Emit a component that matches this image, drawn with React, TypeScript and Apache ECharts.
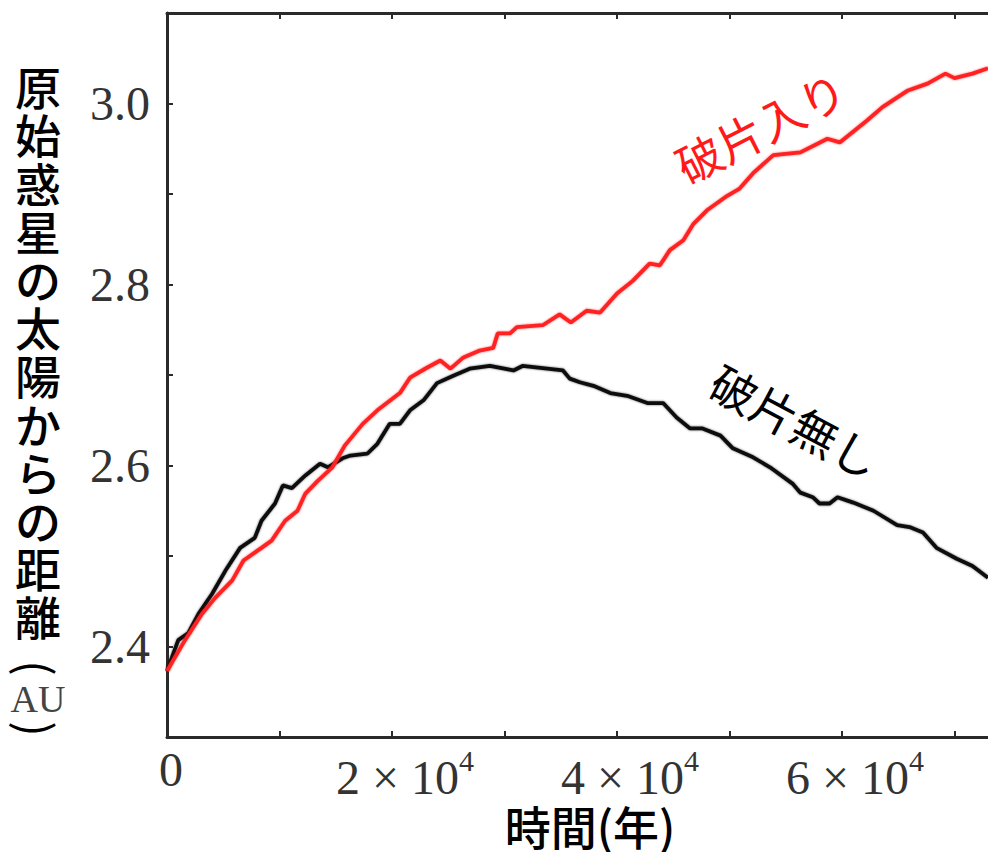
import React, { useEffect, useRef } from "react";
import * as echarts from "echarts";

// 破片入り (red)
const debrisTime = [
  0, 1600, 3100, 4300, 5800, 6800, 8400, 9300, 10500, 11600, 12300, 13400, 14700, 15800,
  17400, 18700, 20700, 21600, 23100, 24300, 25200, 26300, 27800, 29000, 29400, 30500,
  31100, 33400, 34900, 35900, 37300, 38500, 40000, 41400, 42900, 43800, 44700, 45900,
  46800, 48000, 49800, 50900, 52100, 53900, 56300, 58700, 59800, 62200, 63600, 65800,
  67600, 69200, 70000, 71600, 72980,
];
const debrisDist = [
  2.373, 2.407, 2.436, 2.454, 2.473, 2.495, 2.509, 2.517, 2.539, 2.55, 2.569, 2.583, 2.598, 2.622,
  2.646, 2.661, 2.68, 2.697, 2.708, 2.716, 2.707, 2.719, 2.727, 2.73, 2.746, 2.746,
  2.753, 2.755, 2.767, 2.758, 2.771, 2.769, 2.79, 2.804, 2.823, 2.821, 2.838, 2.849,
  2.867, 2.882, 2.898, 2.906, 2.923, 2.943, 2.946, 2.961, 2.957, 2.981, 2.996, 3.014,
  3.022, 3.033, 3.028, 3.033, 3.039,
];

// 破片無し (black)
const noDebrisTime = [
  0, 1000, 1900, 2800, 4000, 5300, 6500, 7800, 8400, 9600, 10300, 11100, 12300, 13600,
  14300, 15600, 16300, 17800, 18700, 19800, 20700, 21600, 22800, 24000, 25400, 26900,
  28700, 30800, 31600, 33800, 35200, 35800, 36700, 37900, 39400, 40900, 42700, 44100,
  45300, 46500, 47600, 49200, 50300, 52100, 53600, 55600, 56300, 57400, 58000, 58900,
  59600, 61000, 62800, 64900, 66000, 67200, 68400, 70200, 71600, 72980,
];
const noDebrisDist = [
  2.373, 2.407, 2.415, 2.436, 2.458, 2.486, 2.509, 2.52, 2.539, 2.558, 2.578, 2.575, 2.589, 2.602,
  2.598, 2.608, 2.611, 2.613, 2.624, 2.646, 2.646, 2.661, 2.672, 2.691, 2.699, 2.707,
  2.71, 2.705, 2.71, 2.707, 2.705, 2.696, 2.692, 2.688, 2.68, 2.677, 2.669, 2.669,
  2.653, 2.641, 2.641, 2.633, 2.619, 2.609, 2.598, 2.58, 2.57, 2.565, 2.558, 2.558,
  2.565, 2.559, 2.55, 2.534, 2.532, 2.526, 2.509, 2.497, 2.489, 2.476,
];

const xTicks = [10000, 20000, 30000, 40000, 50000, 60000, 70000];
const xLabels = [0, 20000, 40000, 60000];
const yLabels = [2.4, 2.6, 2.8, 3.0];

const yTitleChars = ["原", "始", "惑", "星", "の", "太", "陽", "か", "ら", "の", "距", "離"];
const yTitleUnit = "AU";
const xTitle = "時間(年)";
const debrisLabel = "破片入り";
const noDebrisLabel = "破片無し";

const SERIF = "'Liberation Serif', 'DejaVu Serif', serif";
const CJK = "'Noto Sans CJK JP', 'Noto Sans', sans-serif";

export default function App() {
  const ref = useRef<HTMLDivElement>(null);
  useEffect(() => {
    if (!ref.current) return;
    const chart = echarts.init(ref.current, null, { renderer: "svg" });
    const xMax = 72980;
    const axisLineStyle = { color: "#2a2a2a", width: 3 };
    const tickStyle = { color: "#2a2a2a", width: 2 };
    chart.setOption({
      animation: false,
      backgroundColor: "#ffffff",
      grid: { left: 167, top: 13, right: 0, bottom: 115, containLabel: false },
      xAxis: [
        {
          type: "value",
          position: "bottom",
          min: 0,
          max: xMax,
          interval: 10000,
          axisLine: { show: true, onZero: false, lineStyle: axisLineStyle },
          axisTick: { show: true, inside: true, length: 6, customValues: xTicks, lineStyle: tickStyle },
          splitLine: { show: false },
          axisLabel: {
            customValues: xLabels,
            margin: 8,
            formatter: (v: number) =>
              v === 0 ? "{z|0}" : `{a|${v / 10000} × 10}{s|4}`,
            rich: {
              z: { fontSize: 48, fontFamily: SERIF, color: "#333", padding: [0, 0, 0, 8] },
              a: { fontSize: 48, fontFamily: SERIF, color: "#333", padding: [0, 0, 0, 26] },
              s: { fontSize: 30, fontFamily: SERIF, color: "#333", padding: [0, 0, 34, 0] },
            },
          },
        },
        {
          type: "value",
          position: "top",
          min: 0,
          max: xMax,
          interval: 10000,
          axisLine: { show: true, onZero: false, lineStyle: axisLineStyle },
          axisTick: { show: true, inside: true, length: 6, customValues: xTicks, lineStyle: tickStyle },
          axisLabel: { show: false },
          splitLine: { show: false },
        },
      ],
      yAxis: {
        type: "value",
        min: 2.3,
        max: 3.1,
        interval: 0.1,
        axisLine: { show: true, onZero: false, lineStyle: axisLineStyle },
        axisTick: { show: true, inside: true, length: 6, lineStyle: tickStyle },
        splitLine: { show: false },
        axisLabel: {
          margin: 17,
          fontSize: 48,
          fontFamily: SERIF,
          color: "#333",
          formatter: (v: number) => {
            const k = Math.round(v * 10);
            return yLabels.some((l) => Math.round(l * 10) === k) ? (k / 10).toFixed(1) : "";
          },
        },
      },
      series: [
        {
          name: noDebrisLabel,
          type: "line",
          showSymbol: false,
          symbol: "none",
          data: noDebrisTime.map((t, i) => [t, noDebrisDist[i]]),
          lineStyle: { color: "#111111", width: 3.8, shadowBlur: 2, shadowColor: "rgba(0,0,0,0.6)" },
          z: 2,
        },
        {
          name: debrisLabel,
          type: "line",
          showSymbol: false,
          symbol: "none",
          data: debrisTime.map((t, i) => [t, debrisDist[i]]),
          lineStyle: { color: "#ff2222", width: 3.8, shadowBlur: 2, shadowColor: "rgba(255,0,0,0.6)" },
          z: 3,
        },
      ],
      graphic: [
        {
          type: "text",
          x: 38,
          y: 61,
          style: {
            text: yTitleChars.join("\n"),
            fontSize: 46,
            lineHeight: 48.2,
            fontFamily: CJK,
            fontWeight: 500,
            fill: "#000",
            align: "center",
            verticalAlign: "top",
          },
        },
        {
          type: "text",
          x: 38,
          y: 668,
          rotation: -Math.PI / 2,
          style: { text: "(", fontSize: 46, fontFamily: CJK, fill: "#000", align: "center", verticalAlign: "middle" },
        },
        {
          type: "text",
          x: 38,
          y: 699,
          style: { text: yTitleUnit, fontSize: 38, fontFamily: SERIF, fill: "#444", align: "center", verticalAlign: "middle" },
        },
        {
          type: "text",
          x: 38,
          y: 729,
          rotation: -Math.PI / 2,
          style: { text: ")", fontSize: 46, fontFamily: CJK, fill: "#000", align: "center", verticalAlign: "middle" },
        },
        {
          type: "text",
          x: 590,
          y: 825,
          style: {
            text: xTitle,
            fontSize: 46,
            fontFamily: CJK,
            fontWeight: 500,
            fill: "#000",
            align: "center",
            verticalAlign: "middle",
          },
        },
        {
          type: "text",
          x: 760,
          y: 126,
          rotation: (27 * Math.PI) / 180,
          style: {
            text: debrisLabel,
            fontSize: 46,
            fontFamily: CJK,
            fill: "#ff1a1a",
            align: "center",
            verticalAlign: "middle",
          },
        },
        {
          type: "text",
          x: 796,
          y: 420,
          rotation: (-28 * Math.PI) / 180,
          style: {
            text: noDebrisLabel,
            fontSize: 46,
            fontFamily: CJK,
            fill: "#000",
            align: "center",
            verticalAlign: "middle",
          },
        },
      ],
    });
    return () => chart.dispose();
  }, []);
  return (
    <div
      ref={ref}
      style={{ position: "absolute", left: 0, top: 0, width: 988, height: 852, background: "#fff" }}
    />
  );
}
